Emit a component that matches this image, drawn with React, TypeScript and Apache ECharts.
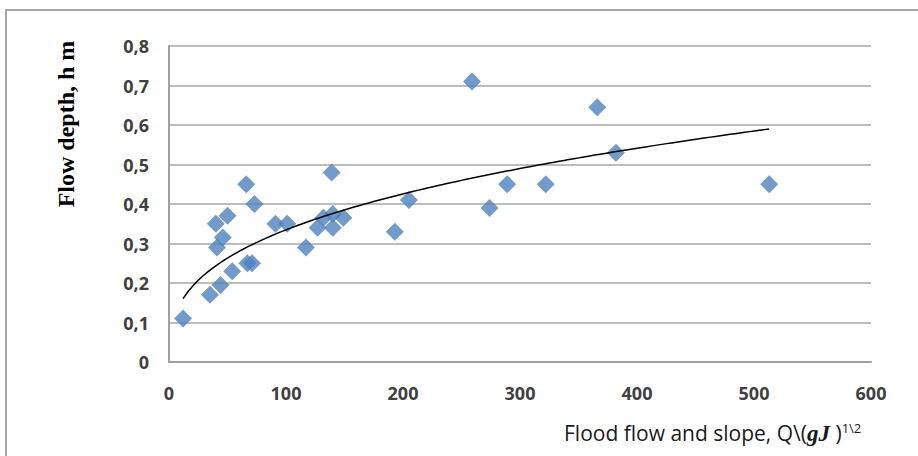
import React, { useEffect, useRef } from "react";
import * as echarts from "echarts";

const flowSlope: number[] = [12, 35, 44, 54, 67, 71, 41, 46, 40, 50, 66, 73, 91, 101, 117, 127, 132, 140, 140, 149, 139, 193, 205, 259, 274, 289, 322, 366, 382, 513];
const flowDepth: number[] = [0.11, 0.17, 0.195, 0.23, 0.25, 0.25, 0.29, 0.315, 0.35, 0.37, 0.45, 0.40, 0.35, 0.35, 0.29, 0.34, 0.365, 0.375, 0.34, 0.365, 0.48, 0.33, 0.41, 0.71, 0.39, 0.45, 0.45, 0.645, 0.53, 0.45];

const xTitle = "Flood flow and slope, Q\\(";
const yTitle = "Flow depth, h m";

function powerFit(xs: number[], ys: number[]) {
  const n = xs.length;
  let sx = 0, sy = 0, sxx = 0, sxy = 0;
  for (let i = 0; i < n; i++) {
    const lx = Math.log(xs[i]);
    const ly = Math.log(ys[i]);
    sx += lx; sy += ly; sxx += lx * lx; sxy += lx * ly;
  }
  const b = (n * sxy - sx * sy) / (n * sxx - sx * sx);
  const a = Math.exp((sy - b * sx) / n);
  return { a, b };
}

export default function App() {
  const ref = useRef<HTMLDivElement>(null);
  useEffect(() => {
    if (!ref.current) return;
    const chart = echarts.init(ref.current, undefined, { renderer: "svg" });
    const points = flowSlope.map((x, i) => [x, flowDepth[i]]);
    const { a, b } = powerFit(flowSlope, flowDepth);
    const xMin = Math.min(...flowSlope);
    const xMax = Math.max(...flowSlope);
    const trend: number[][] = [];
    const steps = 120;
    for (let i = 0; i <= steps; i++) {
      const x = xMin + ((xMax - xMin) * i) / steps;
      trend.push([x, a * Math.pow(x, b)]);
    }
    const labelStyle = {
      fontFamily: "Open Sans",
      fontSize: 18,
      fontWeight: "bold" as const,
      color: "#404040",
    };
    chart.setOption({
      animation: false,
      backgroundColor: "#ffffff",
      grid: { left: 169, right: 47, top: 46, bottom: 94 },
      xAxis: {
        type: "value",
        min: 0,
        max: 600,
        interval: 100,
        axisLine: { show: true, lineStyle: { color: "#a0a0a0", width: 2 } },
        axisTick: { show: false },
        splitLine: { show: false },
        axisLabel: { ...labelStyle, margin: 22 },
      },
      yAxis: {
        type: "value",
        min: 0,
        max: 0.8,
        interval: 0.1,
        axisLine: { show: true, lineStyle: { color: "#a0a0a0", width: 2 } },
        axisTick: { show: false },
        splitLine: { show: true, lineStyle: { color: "#a6a6a6", width: 1.5 } },
        axisLabel: {
          ...labelStyle,
          margin: 20,
          formatter: (v: number) => (Math.round(v * 10) / 10).toString().replace(".", ","),
        },
      },
      series: [
        {
          type: "scatter",
          data: points,
          symbol: "diamond",
          symbolSize: 18,
          itemStyle: { color: "#4f81bd" },
          z: 2,
        },
        {
          type: "line",
          data: trend,
          showSymbol: false,
          symbol: "none",
          smooth: false,
          lineStyle: { color: "#000000", width: 1.5 },
          z: 3,
        },
      ],
      graphic: [
        {
          type: "rect",
          shape: { x: 6, y: 10, width: 1000, height: 1000 },
          style: { fill: "none", stroke: "#a6a6a6", lineWidth: 2 },
          silent: true,
        },
        {
          type: "text",
          x: 66,
          y: 124,
          rotation: Math.PI / 2,
          style: {
            text: yTitle,
            fontFamily: "Liberation Serif",
            fontWeight: "bold",
            fontSize: 24,
            fill: "#000000",
            align: "center",
            verticalAlign: "middle",
          },
        },
        {
          type: "text",
          x: 564,
          y: 433,
          style: {
            text: xTitle + "{it|gJ}{n| )}{sup|1\\2}",
            fontFamily: "Open Sans",
            fontSize: 21,
            fill: "#1a1a1a",
            align: "left",
            verticalAlign: "middle",
            rich: {
              it: {
                fontFamily: "Liberation Serif",
                fontStyle: "italic",
                fontWeight: "bold",
                fontSize: 23,
                fill: "#1a1a1a",
              },
              n: { fontFamily: "Open Sans", fontSize: 21, fill: "#1a1a1a" },
              sup: {
                fontFamily: "Open Sans",
                fontSize: 13,
                fill: "#1a1a1a",
                verticalAlign: "top",
                padding: [0, 0, 9, 0],
              },
            },
          },
        },
      ],
    });
    return () => chart.dispose();
  }, []);
  return (
    <div
      ref={ref}
      style={{ position: "fixed", left: 0, top: 0, width: 918, height: 456 }}
    />
  );
}
